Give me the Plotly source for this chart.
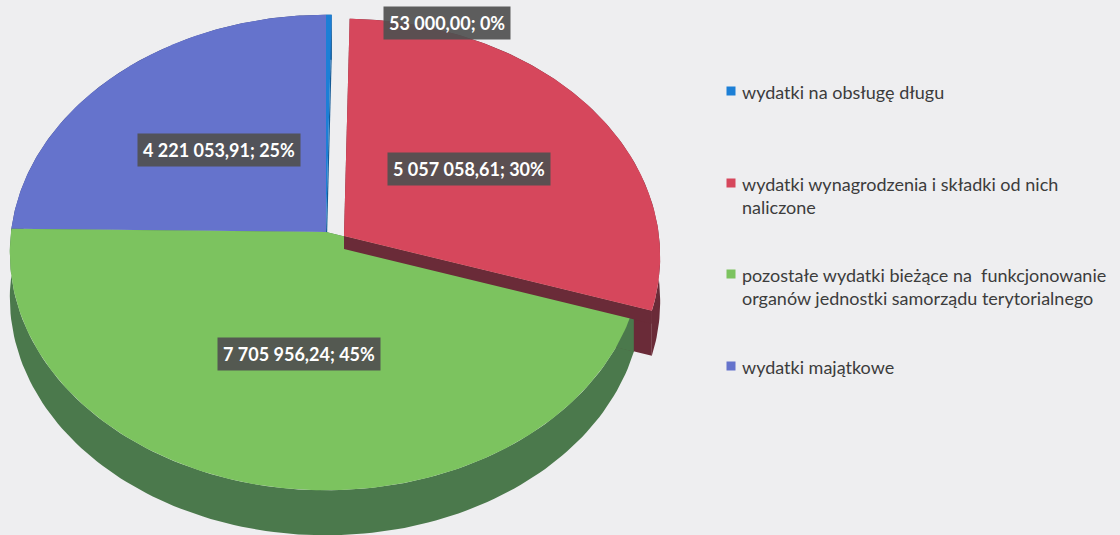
import numpy as np
import plotly.graph_objects as go

# ---------------- data ----------------
categories = [
    "wydatki na obsługę długu",
    "wydatki wynagrodzenia i składki od nich<br>naliczone",
    "pozostałe wydatki bieżące na  funkcjonowanie<br>organów jednostki samorządu terytorialnego",
    "wydatki majątkowe",
]
values = [53000.00, 5057058.61, 7705956.24, 4221053.91]
value_labels = ["53 000,00", "5 057 058,61", "7 705 956,24", "4 221 053,91"]
pct_labels = ["0%", "30%", "45%", "25%"]

# ---------------- style ----------------
top_colors = ["#1c7fd6", "#d6475c", "#7cc35f", "#6573cc"]
side_colors = ["#145a96", "#6a2b38", "#4b794c", "#38427e"]
explode = [(0, 0), (18, 4), (0, 0), (0, 0)]

cx, cy = 326.0, 232.0      # projected pie centre (px)
A, B = 315.0, 236.0        # radii (px)
K = 0.0864                 # perspective factor
D = 45.0                   # pie thickness (px)


def proj(theta_deg, r=1.0, off=(0, 0), drop=0.0):
    t = np.radians(np.asarray(theta_deg, dtype=float))
    u = r * np.sin(t)
    v = -r * np.cos(t)
    w = 1 - K * v
    return cx + A * u / w + off[0], cy + B * v / w + off[1] + drop


total = sum(values)
fracs = [v / total for v in values]
starts = np.cumsum([0] + fracs[:-1]) * 360
ends = np.cumsum(fracs) * 360

fig = go.Figure()


def poly(xs, ys, color):
    fig.add_trace(go.Scatter(x=list(xs), y=list(ys), fill="toself", mode="lines",
                             line=dict(width=0, color=color), fillcolor=color,
                             hoverinfo="skip", showlegend=False))


# rims (outer side walls)
for i in [3, 0, 1, 2]:
    th = np.linspace(starts[i], ends[i], 120)
    xt, yt = proj(th, off=explode[i])
    xb, yb = proj(th[::-1], off=explode[i], drop=D)
    poly(np.concatenate([xt, xb]), np.concatenate([yt, yb]), side_colors[i])

# radial cut faces
for i in [3, 0, 1, 2]:
    for ang in (starts[i], ends[i]):
        x0, y0 = proj(0, r=0, off=explode[i])
        x1, y1 = proj(ang, off=explode[i])
        poly([x0, x1, x1, x0], [y0, y1, y1 + D, y0 + D], side_colors[i])

# tops
for i in [3, 0, 2]:
    th = np.linspace(starts[i], ends[i], 200)
    xt, yt = proj(th, off=explode[i])
    x0, y0 = proj(0, r=0, off=explode[i])
    poly(np.concatenate([[x0], xt, [x0]]), np.concatenate([[y0], yt, [y0]]), top_colors[i])

# visible band of the exploded slice's lower cut face, then its top
i = 1
x0, y0 = proj(0, r=0, off=explode[i])
x1, y1 = proj(ends[i], off=explode[i])
poly([x0, x1, x1, x0], [y0, y1, y1 + 13, y0 + 13], side_colors[i])
th = np.linspace(starts[i], ends[i], 200)
xt, yt = proj(th, off=explode[i])
poly(np.concatenate([[x0], xt, [x0]]), np.concatenate([[y0], yt, [y0]]), top_colors[i])

# data labels
for i in range(len(values)):
    mid = (starts[i] + ends[i]) / 2
    if fracs[i] < 0.02:
        lx, ly = proj(mid, r=1.0, off=explode[i])
        lx, ly = lx + 118, ly + 8
    else:
        lx, ly = proj(mid, r=0.5, off=explode[i])
    fig.add_annotation(x=float(lx), y=float(ly), text=f"<b>{value_labels[i]}; {pct_labels[i]}</b>",
                       showarrow=False, bgcolor="rgba(80,80,80,0.92)", borderpad=5,
                       font=dict(family="Lato", size=18, color="white"))

# legend
leg_y = [91, 183, 274, 366]
for i in range(len(categories)):
    fig.add_trace(go.Scatter(x=[731], y=[leg_y[i]], mode="markers",
                             marker=dict(symbol="square", size=9, color=top_colors[i]),
                             hoverinfo="skip", showlegend=False))
    fig.add_annotation(x=740, y=leg_y[i], yanchor="top", xanchor="left", align="left",
                       text=categories[i], showarrow=False, yshift=12,
                       font=dict(family="Lato", size=18, color="#3c3c3c"))

fig.update_layout(
    width=1120, height=535,
    margin=dict(l=0, r=0, t=0, b=0),
    paper_bgcolor="#eeeef0", plot_bgcolor="#eeeef0",
    xaxis=dict(range=[0, 1120], visible=False, fixedrange=True),
    yaxis=dict(range=[535, 0], visible=False, fixedrange=True),
)

fig.write_html("out.html", config={"displayModeBar": False},
               post_script="document.body.style.margin='0';document.body.style.overflow='hidden';")
